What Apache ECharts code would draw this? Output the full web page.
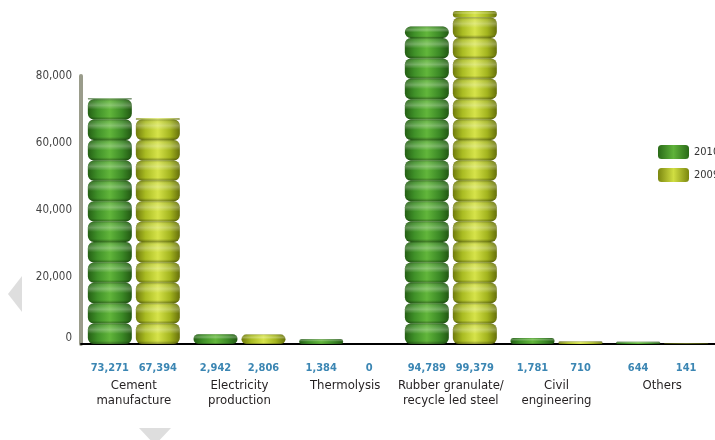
<!DOCTYPE html>
<html>
<head>
<meta charset="utf-8">
<script src="https://cdn.jsdelivr.net/npm/echarts@6/dist/echarts.min.js"></script>
<style>html,body{margin:0;padding:0;background:#fff;}#c{width:715px;height:440px;}</style>
</head>
<body>
<div id="c"></div>
<script>
const categories = ['Cement\nmanufacture', 'Electricity\nproduction', 'Thermolysis', 'Rubber granulate/\nrecycle led steel', 'Civil\nengineering', 'Others'];
const values2010 = [73271, 2942, 1384, 94789, 1781, 644];
const values2009 = [67394, 2806, 0, 99379, 710, 141];
const seriesNames = ['2010', '2009'];
const yTickLabels = ['0', '20,000', '40,000', '60,000', '80,000'];

const FONT = "'Liberation Sans Narrow', 'DejaVu Sans Condensed', 'Noto Sans', sans-serif";
const G = echarts.graphic;
const palettes = {
  '2010': {
    side: [[0, '#245f14'], [0.22, '#3f9028'], [0.5, '#62b63b'], [0.78, '#3c8a26'], [1, '#225812']],
    legend: [[0, '#2a6a18'], [0.5, '#5fb23a'], [1, '#2a6a18']]
  },
  '2009': {
    side: [[0, '#6f7a0c'], [0.22, '#a9bb22'], [0.5, '#d6e34a'], [0.78, '#a3b41e'], [1, '#66700a']],
    legend: [[0, '#7b870f'], [0.5, '#d0de42'], [1, '#7b870f']]
  }
};
function grad(stops, vertical) {
  return new G.LinearGradient(0, 0, vertical ? 0 : 1, vertical ? 1 : 0,
    stops.map(s => ({offset: s[0], color: s[1]})));
}
const shade = [[0, 'rgba(0,0,0,0.25)'], [0.12, 'rgba(255,255,255,0.10)'], [0.3, 'rgba(255,255,255,0.28)'], [0.5, 'rgba(255,255,255,0.0)'], [0.85, 'rgba(0,0,0,0.0)'], [1, 'rgba(0,0,0,0.35)']];

function makeRender(name, offset) {
  return function (params, api) {
    const idx = api.value(0), val = api.value(1);
    const base = api.coord([idx, 0]);
    const top = api.coord([idx, val]);
    const w = 44;
    const cx = base[0] + offset;
    const x0 = cx - w / 2;
    const h = base[1] - top[1];
    const children = [];
    const pitch = 20.4;
    let remaining = h;
    let y = base[1];
    while (remaining > 0.4) {
      const segH = Math.min(pitch, remaining);
      const r = Math.min(6, segH / 2);
      const shape = {x: x0, y: y - segH, width: w, height: segH, r: r};
      children.push({type: 'rect', shape: shape, style: {fill: grad(palettes[name].side, false)}});
      children.push({type: 'rect', shape: shape, style: {fill: grad(shade, true)}});
      y -= segH;
      remaining -= segH;
    }
    children.push({
      type: 'text',
      style: {
        text: val.toLocaleString('en-US'), x: cx, y: base[1] + 24,
        align: 'center', verticalAlign: 'middle',
        fill: '#3b86b3', font: 'bold 11px ' + FONT
      }
    });
    return {type: 'group', children: children};
  };
}

const chart = echarts.init(document.getElementById('c'));
chart.setOption({
  backgroundColor: '#ffffff',
  animation: false,
  grid: {left: 81, top: 76, width: 636, height: 268, containLabel: false},
  legend: {
    orient: 'vertical', left: 658, top: 145, padding: 0,
    itemWidth: 31, itemHeight: 14, itemGap: 9, icon: 'roundRect',
    textStyle: {fontSize: 11, color: '#333', fontFamily: FONT},
    data: seriesNames
  },
  xAxis: {
    type: 'category', data: categories,
    axisLine: {show: true, lineStyle: {color: '#000', width: 2}},
    axisTick: {show: false},
    axisLabel: {margin: 34, fontSize: 13, lineHeight: 15, color: '#231f20', fontFamily: FONT, interval: 0}
  },
  yAxis: {
    type: 'value', min: 0, max: 80000, interval: 20000,
    axisLine: {show: true, lineStyle: {color: '#9a9c8b', width: 4}},
    axisTick: {show: false},
    splitLine: {show: false},
    axisLabel: {
      margin: 9, fontSize: 11.5, color: '#444', fontFamily: FONT,
      formatter: function (v) {
        const s = yTickLabels[Math.round(v / 20000)];
        return v === 0 ? '{z|' + s + '}' : s;
      },
      rich: {z: {fontSize: 11.5, color: '#444', fontFamily: FONT, padding: [0, 0, 12, 0]}}
    }
  },
  graphic: [
    {type: 'polygon', shape: {points: [[22, 276], [8, 294], [22, 312]]}, style: {fill: '#dedede'}},
    {type: 'polygon', shape: {points: [[139, 428], [171, 428], [155, 445]]}, style: {fill: '#dedede'}}
  ],
  series: [
    {
      name: '2010', type: 'custom', clip: false,
      itemStyle: {color: grad(palettes['2010'].legend, false)},
      renderItem: makeRender('2010', -24),
      data: values2010.map((v, i) => [i, v])
    },
    {
      name: '2009', type: 'custom', clip: false,
      itemStyle: {color: grad(palettes['2009'].legend, false)},
      renderItem: makeRender('2009', 24),
      data: values2009.map((v, i) => [i, v])
    }
  ]
});
</script>
</body>
</html>
